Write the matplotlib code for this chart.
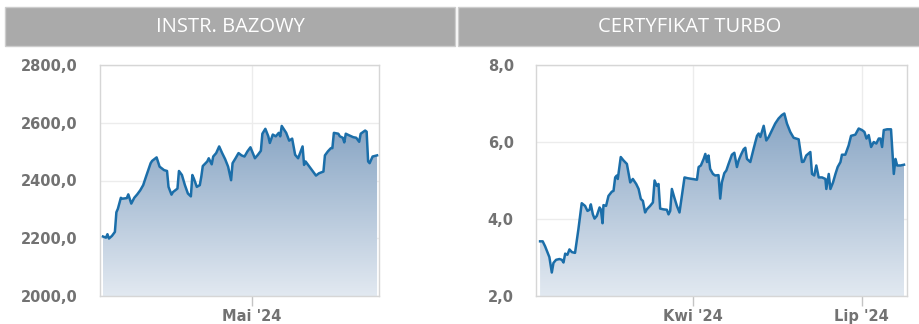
import numpy as np
import pandas as pd
import matplotlib
matplotlib.use('Agg')
import matplotlib.pyplot as plt
import matplotlib.dates as mdates
from matplotlib.patches import Rectangle
from matplotlib.colors import LinearSegmentedColormap
from matplotlib.ticker import FuncFormatter, FixedLocator

# INSTR. BAZOWY - days after start date, closing values
base_start = '2024-01-22'
base_days = [0, 2, 3, 4, 6, 8, 9, 10, 12, 13, 16, 17, 19, 21, 23, 25, 27, 29, 30, 32,
             33, 36, 38, 41, 43, 44, 46, 47, 50, 51, 53, 55, 57, 59, 60, 61, 63, 65, 66, 67,
             70, 71, 73, 74, 76, 78, 80, 82, 84, 86, 87, 89, 91, 93, 95, 97, 99, 102, 104, 106,
             107, 109, 111, 112, 114, 116, 118, 119, 120, 123, 125, 127, 129, 131, 134, 135, 136, 139, 141, 143,
             145, 148, 149, 151, 153, 154, 155, 158, 159, 161, 162, 163, 165, 168, 170, 172, 173, 176, 177, 178,
             179, 181, 184]
base_vals = [2206, 2202, 2214, 2199, 2208, 2222, 2290, 2302, 2340, 2337, 2339, 2352, 2320, 2340, 2352, 2366, 2384, 2415, 2430, 2460,
             2468, 2480, 2448, 2436, 2433, 2378, 2351, 2360, 2372, 2433, 2419, 2384, 2355, 2345, 2419, 2407, 2378, 2384, 2413, 2450,
             2466, 2477, 2456, 2483, 2495, 2518, 2495, 2474, 2448, 2401, 2460, 2477, 2495, 2487, 2483, 2501, 2515, 2477, 2489, 2503,
             2562, 2579, 2553, 2530, 2559, 2553, 2565, 2553, 2589, 2565, 2538, 2545, 2489, 2477, 2518, 2454, 2466, 2445, 2431, 2417,
             2425, 2431, 2487, 2501, 2512, 2512, 2565, 2562, 2553, 2548, 2532, 2562, 2557, 2550, 2548, 2534, 2562, 2573, 2569, 2466,
             2460, 2483, 2487]

# CERTYFIKAT TURBO
turbo_start = '2024-01-10'
turbo_days = [0.0, 1.4, 2.7, 4.1, 5.0, 6.3, 7.2, 8.6, 10.4, 11.7,
              12.6, 13.5, 14.7, 15.8, 17.1, 18.8, 20.6, 22.4, 24.2, 25.5,
              26.6, 27.3, 28.4, 29.3, 30.5, 32.0, 32.7, 33.6, 34.1, 35.5,
              36.8, 38.6, 39.5, 40.4, 41.3, 41.8, 43.4, 44.9, 46.7, 48.5,
              49.9, 51.7, 53.0, 54.2, 55.3, 56.5, 57.4, 59.2, 60.7, 61.6,
              62.8, 63.7, 64.6, 66.4, 68.2, 69.1, 70.0, 70.9, 72.2, 73.6,
              75.0, 76.3, 77.7, 79.3, 81.7, 84.4, 85.3, 86.5, 88.0, 88.9,
              89.8, 90.6, 91.5, 93.0, 94.2, 96.0, 96.9, 97.8, 99.1, 100.2,
              101.4, 103.2, 104.5, 105.9, 106.8, 108.1, 109.5, 110.4, 111.3, 113.1,
              114.9, 116.7, 117.6, 118.5, 120.3, 121.7, 123.0, 124.8, 126.5, 128.3,
              130.1, 131.4, 132.8, 134.6, 136.4, 139.1, 140.9, 141.8, 143.2, 145.4,
              146.3, 147.5, 148.6, 149.9, 151.7, 153.5, 154.0, 155.3, 156.2, 157.6,
              158.9, 160.1, 161.6, 162.4, 164.2, 166.0, 167.3, 169.6, 171.4, 173.2,
              174.5, 175.6, 176.8, 178.1, 179.5, 180.9, 182.2, 183.1, 184.0, 184.9,
              186.7, 188.8, 190.3, 191.2, 192.1, 193.9, 195.8]
turbo_vals = [3.42, 3.42, 3.29, 3.12, 3.01, 2.61, 2.86, 2.94, 2.96, 2.94,
              2.87, 3.10, 3.07, 3.21, 3.14, 3.12, 3.73, 4.41, 4.34, 4.21,
              4.24, 4.38, 4.12, 4.01, 4.08, 4.30, 4.25, 3.89, 4.36, 4.34,
              4.60, 4.71, 4.73, 5.08, 5.13, 5.04, 5.61, 5.52, 5.43, 4.95,
              5.04, 4.91, 4.78, 4.52, 4.47, 4.17, 4.25, 4.34, 4.43, 5.00,
              4.86, 4.91, 4.27, 4.25, 4.24, 4.12, 4.21, 4.78, 4.56, 4.34,
              4.17, 4.60, 5.08, 5.06, 5.04, 5.02, 5.35, 5.39, 5.56, 5.69,
              5.48, 5.65, 5.30, 5.17, 5.13, 5.14, 4.53, 4.95, 5.19, 5.26,
              5.43, 5.67, 5.72, 5.35, 5.52, 5.67, 5.81, 5.85, 5.56, 5.48,
              5.83, 6.16, 6.22, 6.13, 6.42, 6.04, 6.13, 6.31, 6.48, 6.61,
              6.70, 6.74, 6.48, 6.26, 6.11, 6.07, 5.48, 5.49, 5.65, 5.74,
              5.17, 5.13, 5.39, 5.08, 5.08, 5.04, 4.78, 5.17, 4.78, 4.95,
              5.17, 5.35, 5.48, 5.67, 5.67, 5.91, 6.16, 6.19, 6.35, 6.31,
              6.26, 6.09, 6.18, 5.87, 6.00, 5.96, 6.09, 6.09, 5.87, 6.31,
              6.33, 6.33, 5.17, 5.56, 5.39, 5.39, 5.41]

base_yticks = [2000, 2200, 2400, 2600, 2800]
turbo_yticks = [2, 4, 6, 8]
base_xticks = ['2024-05-01']
base_xlabels = ["Mai '24"]
turbo_xticks = ['2024-04-01', '2024-07-01']
turbo_xlabels = ["Kwi '24", "Lip '24"]

W, H = 920, 324
LINE = '#1b6ea9'
TICK = '#727272'
grad_cmap = LinearSegmentedColormap.from_list('g', ['#e2e9f1', '#88a5c4'])


def panel(rect, start, days, vals, yticks, xticks, xlabels, pad):
    ax = fig.add_axes(rect)
    dates = pd.Timestamp(start) + pd.to_timedelta(days, unit='D')
    x = mdates.date2num(dates)
    ylo, yhi = yticks[0], yticks[-1]
    poly = ax.fill_between(x, vals, ylo, color='none', lw=0)
    grad = np.linspace(0, 1, 256).reshape(-1, 1)
    im = ax.imshow(grad, extent=[x[0], x[-1], ylo, max(vals)], origin='lower',
                   aspect='auto', cmap=grad_cmap, zorder=1)
    im.set_clip_path(poly.get_paths()[0], ax.transData)
    ax.plot(x, vals, color=LINE, lw=1.8, zorder=3, solid_joinstyle='round')
    ax.set_xlim(x[0] - pad[0], x[-1] + pad[1])
    ax.set_ylim(ylo, yhi)
    ax.set_aspect('auto')

    ax.yaxis.set_major_locator(FixedLocator(yticks))
    ax.yaxis.set_major_formatter(FuncFormatter(lambda v, p: f'{v:.1f}'.replace('.', ',')))
    ax.set_xticks(mdates.date2num(pd.to_datetime(xticks)))
    ax.set_xticklabels(xlabels)
    ax.tick_params(axis='y', length=0, pad=16, labelsize=10.5, labelcolor=TICK)
    ax.tick_params(axis='x', length=7.5, width=1, color='#c4c4c4', pad=2,
                   labelsize=10.5, labelcolor=TICK)
    for lab in ax.get_xticklabels() + ax.get_yticklabels():
        lab.set_fontweight('bold')
    ax.grid(True, color='#ececec', lw=1)
    ax.set_axisbelow(True)
    for s in ax.spines.values():
        s.set_color('#d6d6d6')
        s.set_linewidth(1)
    return ax


fig = plt.figure(figsize=(W / 100, H / 100), dpi=100)

panel([100 / W, 28 / H, 279 / W, 231 / H], base_start, base_days, base_vals,
      base_yticks, base_xticks, base_xlabels, (2.0, 1.3))
panel([536 / W, 28 / H, 371 / W, 231 / H], turbo_start, turbo_days, turbo_vals,
      turbo_yticks, turbo_xticks, turbo_xlabels, (2.2, 1.6))

# header bars
for x0, x1, title in [(5, 455, 'INSTR. BAZOWY'), (458, 921, 'CERTYFIKAT TURBO')]:
    fig.patches.append(Rectangle((x0 / W, 1 - 46 / H), (x1 - x0) / W, 39 / H,
                                 transform=fig.transFigure, facecolor='#aaaaaa',
                                 edgecolor='#cdcdcd', lw=1))
    fig.text((x0 + x1) / 2 / W, 1 - 27 / H, title, color='white', ha='center',
             va='center', fontsize=14.5, family='Open Sans')

fig.savefig('out.png', dpi=100)
